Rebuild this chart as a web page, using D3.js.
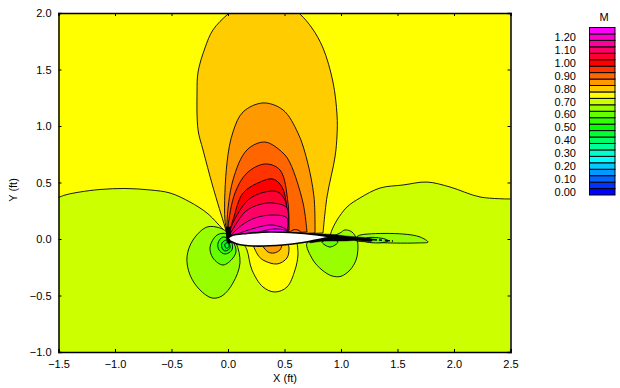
<!DOCTYPE html>
<html><head><meta charset="utf-8">
<style>
html,body{margin:0;padding:0;background:#fff;overflow:hidden}
text{font-family:"Liberation Sans",Arial,sans-serif;font-size:11px;fill:#000}
</style>
<script src="https://cdn.jsdelivr.net/npm/d3@7/dist/d3.min.js"></script>
</head><body><svg id="c" width="620" height="388"></svg>
<script>
// Mach colour levels, one colour per 0.05 band starting at 0.00
const bandColors = ["#0000ff","#0033ff","#0066ff","#0099ff","#00ccff","#00ffff","#00ffcc","#00ff99","#00ff66","#00ff33","#00ff00","#33ff00","#66ff00","#99ff00","#ccff00","#ffff00","#ffcc00","#ff9900","#ff6600","#ff3300","#ff0000","#ff0033","#ff0066","#ff0099","#ff00cc","#ff00ff"];
const legendTicks = [0,0.1,0.2,0.3,0.4,0.5,0.6,0.7,0.8,0.9,1.0,1.1,1.2];
const xTicks = [-1.5,-1,-0.5,0,0.5,1,1.5,2,2.5];
const yTicks = [-1,-0.5,0,0.5,1,1.5,2];

// Contour outlines in (X ft, Y ft)
const yellowLeft = [[-1.51,.363],[-1.442,.389],[-1.31,.416],[-1.133,.438],[-.912,.447],[-.69,.434],[-.513,.407],[-.336,.327],[-.186,.23],[-.097,.142],[-.027,.062],[0,.009]];
const yellowRight = [[.903,.027],[.92,.08],[.965,.168],[1.053,.283],[1.168,.363],[1.345,.451],[1.549,.478],[1.761,.504],[1.965,.46],[2.23,.372],[2.51,.354]];
const upper080 = [[0,.018],[-.027,.106],[-.133,.46],[-.221,.788],[-.265,.965],[-.274,1.301],[-.265,1.478],[-.204,1.69],[-.133,1.85],[0,1.991],[.15,2.097],[.319,2.133],[.504,2.097],[.637,1.991],[.743,1.867],[.841,1.69],[.929,1.389],[.965,1.097],[.965,.92],[.947,.726],[.876,.372],[.841,.053]];
const upper085 = [[0,.027],[-.027,.168],[-.009,.673],[.044,.947],[.133,1.124],[.31,1.204],[.487,1.142],[.619,.938],[.699,.699],[.761,.372],[.77,.053]];
const upper090 = [[0,.027],[-.009,.142],[.044,.522],[.168,.788],[.327,.858],[.487,.761],[.549,.673],[.664,.319],[.699,.062]];
const upper095 = [[0,.027],[0,.106],[.062,.407],[.168,.584],[.327,.664],[.46,.611],[.531,.319],[.54,.062]];
const upper100 = [[0,.027],[.044,.168],[.133,.407],[.283,.504],[.398,.531],[.478,.46],[.522,.274],[.531,.062]];
const upper105 = [[.009,.027],[.035,.124],[.177,.345],[.327,.416],[.442,.416],[.504,.345],[.522,.239],[.522,.062]];
const upper110 = [[.009,.027],[.15,.239],[.265,.301],[.389,.319],[.522,.274],[.522,.062]];
const upper115 = [[.018,.027],[.124,.124],[.239,.186],[.389,.212],[.522,.186],[.522,.062]];
const upper120 = [[.035,.027],[.239,.097],[.389,.124],[.522,.08],[.522,.053]];
const upper125 = [[.221,.044],[.31,.071],[.416,.089],[.522,.07],[.522,.05]];
const shockBlob = [[.54,.053],[.575,.08],[.619,.08],[.655,.053]];
const lower075 = [[.133,-.035],[.168,-.097],[.212,-.274],[.31,-.425],[.416,-.469],[.522,-.425],[.593,-.274],[.619,-.142],[.611,-.035]];
const lower080 = [[.221,-.053],[.265,-.142],[.31,-.186],[.434,-.221],[.522,-.168],[.54,-.08],[.531,-.044]];
const lower085 = [[.301,-.053],[.354,-.115],[.407,-.124],[.46,-.097],[.478,-.053]];
const nose065 = [[-.363,-.159],[-.31,-.009],[-.186,.106],[-.071,.097],[0,.053],[.071,-.035],[.106,-.212],[.044,-.389],[-.053,-.504],[-.142,-.522],[-.248,-.451],[-.336,-.319]];
const nose060 = [[-.159,-.071],[-.097,.035],[-.009,.044],[.071,-.097],[.044,-.168],[-.044,-.23],[-.133,-.168]];
const nose055 = [[-.088,-.035],[-.044,.018],[.027,-.018],[.035,-.097],[-.027,-.133],[-.08,-.097]];
const nose050 = [[-.053,-.035],[-.009,-.009],[.018,-.08],[-.027,-.106],[-.053,-.08]];
const nose045 = [[-.027,-.044],[0,-.035],[.009,-.071],[-.018,-.08]];
const tail065 = [[.699,-.035],[.752,-.186],[.832,-.274],[.92,-.327],[1.0,-.33],[1.08,-.274],[1.133,-.186],[1.15,-.08],[1.142,-.009],[1.097,.062],[1.035,.08],[.991,.053],[.832,-.009]];
const tail060 = [[.832,-.027],[.903,-.071],[.973,-.027],[.92,0]];
const wake065 = [[1.15,.027],[1.239,.044],[1.549,.044],[1.699,.018],[1.77,-.027],[1.673,-.035],[1.434,-.035],[1.257,-.027],[1.124,-.009]];
const wake060 = [[1.23,.009],[1.389,0],[1.416,-.018],[1.319,-.035],[1.212,-.018]];
const airfoilUpper = [[0,.009],[.035,.031],[.168,.049],[.372,.062],[.611,.053],[.752,.04],[.885,.022]];
const airfoilLower = [[.885,.013],[.664,-.031],[.487,-.053],[.221,-.062],[.08,-.044],[.018,-.018]];
const wakeBlack = [[.664,.049],[.929,.04],[1.035,.027],[1.142,.018],[1.274,0],[1.274,-.018],[1.142,-.013],[1.018,-.018],[.858,-.018],[.726,-.035]];
const wakeSpecks = [[1.274,-.005],[1.46,-.018]];
const noseStem = [[0,.088],[.009,-.018]];

const openLobes = [[16,upper080],[17,upper085],[18,upper090],[19,upper095],[20,upper100],[21,upper105],[22,upper110],[23,upper115],[24,upper120],[25,upper125],[18,shockBlob],[15,lower075],[16,lower080],[17,lower085]];
const closedLobes = [[13,nose065],[12,nose060],[11,nose055],[10,nose050],[9,nose045],[13,tail065],[12,tail060],[13,wake065],[12,wake060]];

const svg = d3.select("#c");
const x = d3.scaleLinear().domain([-1.5,2.5]).range([58.5,510.5]);
const y = d3.scaleLinear().domain([-1,2]).range([352,13]);

svg.append("defs").append("clipPath").attr("id","plot").append("rect")
  .attr("x",x(-1.5)).attr("y",y(2)).attr("width",x(2.5)-x(-1.5)).attr("height",y(-1)-y(2));
const g = svg.append("g").attr("clip-path","url(#plot)");

const open = d3.line().x(d=>x(d[0])).y(d=>y(d[1])).curve(d3.curveCatmullRom.alpha(0.5));
const closed = d3.line().x(d=>x(d[0])).y(d=>y(d[1])).curve(d3.curveCatmullRomClosed.alpha(0.5));
const straight = d3.line().x(d=>x(d[0])).y(d=>y(d[1]));
const contour = s=>s.attr("stroke","#000018").attr("stroke-width",0.9).attr("stroke-linejoin","round");

g.append("rect").attr("x",x(-1.5)).attr("y",y(2)).attr("width",x(2.5)-x(-1.5)).attr("height",y(-1)-y(2)).attr("fill",bandColors[14]);
contour(g.append("path")
  .attr("d",open(yellowLeft)+"L"+open(yellowRight).slice(1)+`L${x(2.6)},${y(2.1)}L${x(-1.6)},${y(2.1)}Z`)
  .attr("fill",bandColors[15]));

g.selectAll("path.lobeO").data(openLobes).join("path").attr("class","lobeO")
  .attr("d",d=>open(d[1])+"Z").attr("fill",d=>bandColors[d[0]]).call(contour);
g.selectAll("path.lobeC").data(closedLobes).join("path").attr("class","lobeC")
  .attr("d",d=>closed(d[1])).attr("fill",d=>bandColors[d[0]]).call(contour);

g.append("path").attr("d",straight(noseStem)).attr("stroke","#000").attr("stroke-width",5).attr("stroke-linecap","round").attr("fill","none");
g.append("path").attr("d",open(wakeBlack)+"Z").attr("fill","#000").attr("stroke","#000").attr("stroke-width",.5);
g.append("path").attr("d",straight(wakeSpecks)).attr("stroke","#000").attr("stroke-width",1.6).attr("stroke-dasharray","5 2 3 3").attr("fill","none");
g.append("path").attr("d",open(airfoilUpper)+"L"+open(airfoilLower).slice(1)+"Z")
  .attr("fill","#fff").attr("stroke","#000").attr("stroke-width",1.6).attr("stroke-linejoin","round");

// Axes
const axB = d3.axisBottom(x).tickValues(xTicks).tickFormat(d3.format(".1f")).tickSize(-3).tickPadding(8);
const axT = d3.axisTop(x).tickValues(xTicks).tickFormat("").tickSize(-3);
const axL = d3.axisLeft(y).tickValues(yTicks).tickFormat(d3.format(".1f")).tickSize(-3).tickPadding(7);
const axR = d3.axisRight(y).tickValues(yTicks).tickFormat("").tickSize(-3);
[[axB,0,352],[axT,0,13],[axL,58.5,0],[axR,510.5,0]].forEach(([a,tx,ty])=>{
  const gg = svg.append("g").attr("transform",`translate(${tx},${ty})`).call(a);
  gg.selectAll("text").attr("font-size",null).attr("font-family",null).attr("fill",null);
  gg.selectAll("path.domain,line").attr("stroke","#000");
  gg.select("path.domain").attr("stroke-width",1.5);
});
d3.selectAll("g").attr("font-size",null).attr("font-family",null);

svg.append("text").attr("x",285).attr("y",382).attr("text-anchor","middle").text("X (ft)");
svg.append("text").attr("transform","translate(17,190) rotate(-90)").attr("text-anchor","middle").text("Y (ft)");

// Legend
const legendIdx = d3.range(bandColors.length);
const ly = d3.scaleBand().domain(legendIdx).range([195,27.5]);
svg.selectAll("rect.band").data(legendIdx).join("rect").attr("class","band")
  .attr("x",589.5).attr("width",25.5).attr("y",d=>ly(d)).attr("height",ly.bandwidth())
  .attr("fill",d=>bandColors[d]).attr("stroke","#000").attr("stroke-width",1);
svg.selectAll("text.lt").data(legendTicks).join("text").attr("class","lt")
  .attr("x",576).attr("text-anchor","end").attr("dominant-baseline","central")
  .attr("y",d=>ly(Math.round(d/0.05))+ly.bandwidth()/2).text(d=>d.toFixed(2));
svg.append("text").attr("x",604).attr("y",21).attr("text-anchor","middle").text("M");
</script></body></html>
